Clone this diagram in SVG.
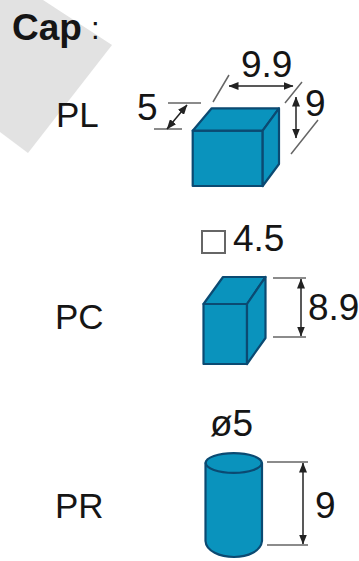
<svg xmlns="http://www.w3.org/2000/svg" width="359" height="561" viewBox="0 0 359 561">
<style>
text{font-family:"Liberation Sans",Arial,sans-serif;fill:#151515;font-size:37px}
text.n{font-size:35px}
.b{fill:#0a93bd;stroke:#0b4a72;stroke-width:2.200;stroke-linejoin:round}
.l{fill:none;stroke:#666;stroke-width:1.500}
.d{fill:none;stroke:#222;stroke-width:1.500;marker-start:url(#a);marker-end:url(#a)}
</style>
<defs><marker id="a" viewBox="0 0 10 8" refX="9.500" refY="4" markerWidth="10" markerHeight="8" orient="auto-start-reverse" markerUnits="userSpaceOnUse"><path d="M0 0L10 4L0 8Z" fill="#222"/></marker></defs>
<polygon id="bg" points="43,0 112,45 28,153 0,132 0,0" fill="#e2e2e2"/>
<g id="title"><text x="12" y="40" font-weight="700">Cap</text><text x="91" y="39" style="font-size:31px">:</text></g>
<g id="PL"><text class="n" x="56" y="127">PL</text>
<path class="b" d="M192.700 130.700H262.700V186H192.700Z"/>
<path class="b" d="M192.700 130.700L211.700 108.300H279L262.700 130.700Z"/>
<path class="b" d="M262.700 130.700L279 108.300V164L262.700 186Z"/></g>
<g id="PC"><text class="n" x="55" y="329">PC</text>
<path class="b" d="M203.500 304H247V364H203.500Z"/>
<path class="b" d="M203.500 304L223 277H265.500L247 304Z"/>
<path class="b" d="M247 304L265.500 277V338L247 364Z"/></g>
<g id="PR"><text class="n" x="55" y="518">PR</text>
<path class="b" d="M205.500 463V541C206 551 220 557 234 557C248 557 261 551 262 541V463Z"/>
<ellipse class="b" cx="233.700" cy="463" rx="28" ry="9.800"/></g>
<g id="connectors">
<path class="l" d="M213 102L229 75M285 103L302 82M291 154L318 120M168 103H201M154 129H182M273 278H306M273 337H306M267 462H308M267 545H308"/>
<path class="d" d="M229 86H293"/>
<path class="d" d="M296 97V138"/>
<path class="d" d="M187 105L167 129"/>
<path class="d" d="M301 279V336"/>
<path class="d" d="M303 463V544"/>
</g>
<g id="labels">
<text x="241" y="77">9.9</text>
<text x="305" y="116">9</text>
<text x="137" y="120">5</text>
<rect x="202" y="231" width="23" height="22" fill="#fff" stroke="#666" stroke-width="2"/>
<text x="233" y="251">4.5</text>
<text x="308" y="320">8.9</text>
<text x="210" y="436">ø5</text>
<text x="315" y="518">9</text>
</g>
</svg>
